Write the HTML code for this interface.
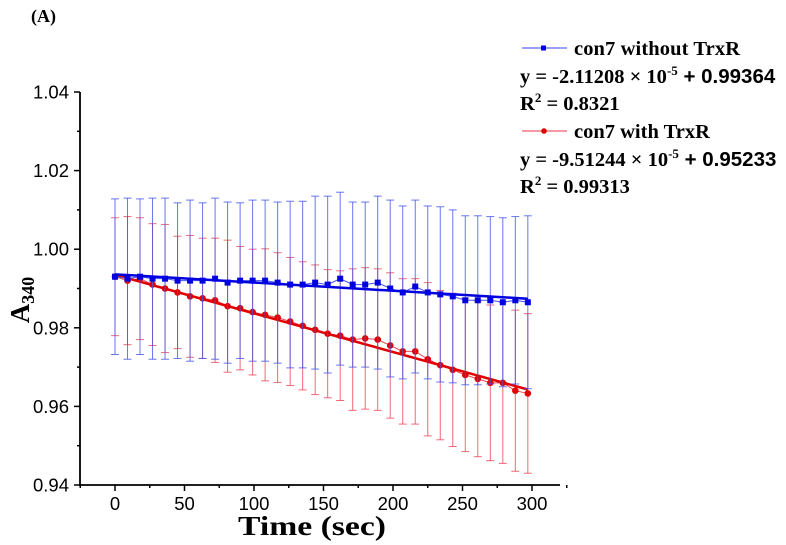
<!DOCTYPE html>
<html><head><meta charset="utf-8"><style>
body{margin:0;background:#fff;}
svg{display:block;font-family:"Liberation Sans",sans-serif;}
.lg{font-family:"Liberation Serif",serif;font-weight:bold;font-size:20.5px;}
</style></head><body>
<svg id="chart" width="786" height="545" viewBox="0 0 786 545" xmlns="http://www.w3.org/2000/svg">
<text x="31" y="22" class="lg" style="font-size:18px">(A)</text>
<g id="axes"></g>
<g id="marks"></g>
<g>
<line x1="522" y1="48" x2="567" y2="48" stroke="#3344ee" stroke-width="1"/><rect x="541" y="45.5" width="5" height="5" fill="#0000dd"/>
<text x="574" y="55" class="lg" textLength="166">con7 without TrxR</text>
<text x="520" y="83" class="lg">y = -2.11208 × 10<tspan font-size="13" dy="-8">-5</tspan><tspan dy="8" font-family="Liberation Sans"> + 0.99364</tspan></text>
<text x="520" y="110" class="lg">R<tspan font-size="13" dy="-8">2</tspan><tspan dy="8"> = 0.8321</tspan></text>
<line x1="522" y1="131" x2="567" y2="131" stroke="#ee3344" stroke-width="1"/><circle cx="544" cy="131" r="2.8" fill="#dd0000"/>
<text x="574" y="138" class="lg">con7 with TrxR</text>
<text x="520" y="166" class="lg">y = -9.51244 × 10<tspan font-size="13" dy="-8">-5</tspan><tspan dy="8" font-family="Liberation Sans"> + 0.95233</tspan></text>
<text x="520" y="193" class="lg">R<tspan font-size="13" dy="-8">2</tspan><tspan dy="8"> = 0.99313</tspan></text>
</g>
</svg>
<script>
const times=[0,9,18,27,36,45,54,63,72,81,90,99,108,117,126,135,144,153,162,171,180,189,198,207,216,225,234,243,252,261,270,279,288,297];
const blueMean=[0.993,0.9925,0.993,0.9925,0.9925,0.992,0.992,0.992,0.9925,0.9915,0.992,0.992,0.992,0.9915,0.991,0.991,0.9915,0.991,0.9925,0.991,0.991,0.9915,0.990,0.989,0.9905,0.989,0.9885,0.988,0.987,0.987,0.987,0.9865,0.987,0.9865];
const blueErr=[0.0198,0.0205,0.0198,0.0205,0.0205,0.0198,0.0205,0.0198,0.0205,0.0205,0.0198,0.0205,0.0205,0.0205,0.0212,0.0212,0.022,0.0225,0.022,0.021,0.021,0.022,0.0225,0.022,0.022,0.022,0.0223,0.022,0.0215,0.0215,0.0213,0.0215,0.0213,0.022];
const redMean=[0.993,0.992,0.9925,0.991,0.990,0.989,0.988,0.9875,0.987,0.9855,0.985,0.984,0.9833,0.9826,0.9816,0.9805,0.9795,0.9785,0.978,0.977,0.9773,0.977,0.9755,0.974,0.974,0.972,0.9705,0.9693,0.968,0.967,0.966,0.966,0.964,0.9633];
const redErr=[0.015,0.0163,0.0155,0.0155,0.0163,0.0143,0.0155,0.0153,0.0158,0.0168,0.0157,0.016,0.0168,0.0165,0.0163,0.0163,0.0165,0.0163,0.0165,0.018,0.018,0.018,0.0185,0.0185,0.0185,0.0195,0.019,0.0195,0.0195,0.0198,0.0198,0.0205,0.0205,0.0203];
const blueFit=[0.9936,0.9874];
const redFit=[0.9935,0.9643];
const xTicks=[0,50,100,150,200,250,300];
const yTicks=[0.94,0.96,0.98,1.00,1.02,1.04];
const X=t=>115+t*(417/300);
const Y=v=>485-(v-0.94)*3930;
const NS="http://www.w3.org/2000/svg";
function mk(tag,at,parent){const e=document.createElementNS(NS,tag);for(const k in at)e.setAttribute(k,at[k]);parent.appendChild(e);return e;}
const ax=document.getElementById('axes'),mg=document.getElementById('marks');
const yl=mk('line',{x1:80,y1:92,x2:80,y2:486,stroke:'#000','stroke-width':1.8},ax);


const xl=mk('line',{x1:79,y1:485,x2:560,y2:485,stroke:'#000','stroke-width':1.8},ax);


yTicks.forEach((v,i)=>{const y=Y(v);mk('line',{x1:74,y1:y,x2:80,y2:y,stroke:'#000','stroke-width':1.5},ax);
 if(i<yTicks.length-1)mk('line',{x1:77,y1:Y(v+0.01),x2:80,y2:Y(v+0.01),stroke:'#000','stroke-width':1.5},ax);
 const t=mk('text',{x:69,y:y+6.5,'text-anchor':'end','font-size':18.5},ax);t.textContent=v.toFixed(2);
 
 });
const minorX=[-25,25,75,125,175,225,275,325];
minorX.forEach(v=>mk('line',{x1:X(v),y1:485,x2:X(v),y2:488,stroke:'#000','stroke-width':1.5},ax));
xTicks.forEach(v=>{const x=X(v);mk('line',{x1:x,y1:485,x2:x,y2:491,stroke:'#000','stroke-width':1.5},ax);
 const t=mk('text',{x:x,y:510,'text-anchor':'middle','font-size':18.5},ax);t.textContent=v;
 
 });
const xt=mk('text',{x:238,y:535,'font-size':27,'font-weight':'bold','font-family':'Liberation Serif,serif',textLength:148,lengthAdjust:'spacingAndGlyphs'},ax);xt.textContent='Time (sec)';


const yt=mk('text',{transform:'translate(29,300) rotate(-90)','text-anchor':'middle','font-size':27,'font-weight':'bold','font-family':'Liberation Serif,serif'},ax);
yt.innerHTML='A<tspan font-size="18" dy="5">340</tspan>';


function series(mean,err,fit,col,lc,sq,name){
 const g=mk('g',{},mg);
 
 
 times.forEach((t,i)=>{const x=X(t),y1=Y(mean[i]+err[i]),y2=Y(mean[i]-err[i]);
  mk('line',{x1:x,y1:y1,x2:x,y2:y2,stroke:lc,'stroke-width':1,opacity:0.8},g);
  mk('line',{x1:x-4,y1:y1,x2:x+4,y2:y1,stroke:lc,'stroke-width':1,opacity:0.8},g);
  mk('line',{x1:x-4,y1:y2,x2:x+4,y2:y2,stroke:lc,'stroke-width':1,opacity:0.8},g);});
 mk('polyline',{points:times.map((t,i)=>X(t)+','+Y(mean[i])).join(' '),fill:'none',stroke:lc,'stroke-width':1},g);
 const fl=mk('line',{x1:X(times[0]),y1:Y(fit[0]),x2:X(times[times.length-1]),y2:Y(fit[1]),stroke:col,'stroke-width':2.5},g);
 
 
 times.forEach((t,i)=>{const x=X(t),y=Y(mean[i]);let p;
  if(sq)p=mk('rect',{x:x-3,y:y-3,width:6,height:6,fill:col},g);else p=mk('circle',{cx:x,cy:y,r:3.3,fill:col},g);
  
  });
}
series(redMean,redErr,redFit,'#e00000','#ee4455',false,'with-trxr-series');
series(blueMean,blueErr,blueFit,'#0000e0','#4455ee',true,'without-trxr-series');
</script>
</body></html>
